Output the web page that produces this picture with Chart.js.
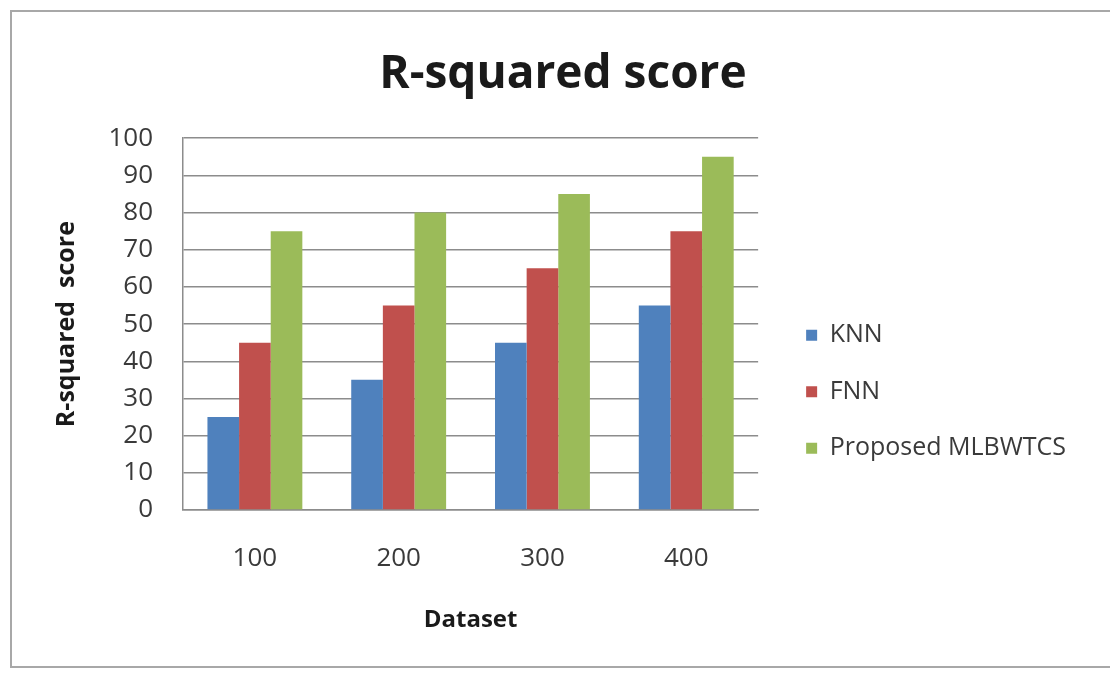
<!DOCTYPE html>
<html>
<head>
<meta charset="utf-8">
<script src="https://cdn.jsdelivr.net/npm/chart.js@4"></script>
<style>
  html, body { margin: 0; padding: 0; background: #ffffff; }
  #wrap { position: relative; width: 1110px; height: 675px; overflow: hidden; background: #fff; }
  #frame { position: absolute; left: 10px; top: 10px; width: 1110px; height: 658px; border: 2px solid #a8a8a8; border-right: none; box-sizing: border-box; }
  canvas { position: absolute; left: 0; top: 0; }
</style>
</head>
<body>
<div id="wrap">
  <div id="frame"></div>
  <canvas id="c" width="1110" height="675"></canvas>
</div>
<script>
const categories = ['100', '200', '300', '400'];
const knn = [25, 35, 45, 55];
const fnn = [45, 55, 65, 75];
const proposed = [75, 80, 85, 95];
const seriesNames = ['KNN', 'FNN', 'Proposed MLBWTCS'];
const yTicks = [0, 10, 20, 30, 40, 50, 60, 70, 80, 90, 100];

const FONT = "'Open Sans', 'DejaVu Sans', sans-serif";
const TXT = '#3a3a3a';

new Chart(document.getElementById('c'), {
  type: 'bar',
  data: {
    labels: categories,
    datasets: [
      { label: seriesNames[0], data: knn, backgroundColor: '#4F81BD' },
      { label: seriesNames[1], data: fnn, backgroundColor: '#C0504D' },
      { label: seriesNames[2], data: proposed, backgroundColor: '#9BBB59' }
    ]
  },
  options: {
    responsive: false,
    animation: false,
    devicePixelRatio: 1,
    layout: { padding: { left: 50, right: 34, top: 20, bottom: 20 } },
    datasets: { bar: { categoryPercentage: 0.66, barPercentage: 1.0, borderWidth: 0 } },
    plugins: {
      title: {
        display: true,
        text: 'R-squared score',
        color: '#1a1a1a',
        font: { family: FONT, size: 46, weight: 'bold' },
        padding: { top: 27, bottom: 36 }
      },
      legend: {
        position: 'right',
        align: 'center',
        maxWidth: 500,
        title: { display: true, text: ' ', font: { size: 10 }, padding: { top: 40, bottom: 40 } },
        labels: {
          color: TXT,
          font: { family: FONT, size: 25, lineHeight: 0.34 },
          boxWidth: 11,
          boxHeight: 11,
          padding: 48,
          generateLabels: (chart) => chart.data.datasets.map((ds, i) => ({
            text: [ds.label],
            fillStyle: ds.backgroundColor,
            strokeStyle: ds.backgroundColor,
            lineWidth: 0,
            hidden: false,
            datasetIndex: i,
            fontColor: TXT
          }))
        }
      },
      tooltip: { enabled: false }
    },
    scales: {
      x: {
        grid: { display: false, drawTicks: false },
        border: { display: true, color: '#8c8c8c', width: 1.5 },
        ticks: { color: TXT, font: { family: FONT, size: 26 }, padding: 33 },
        title: { display: true, text: 'Dataset', color: '#1a1a1a', font: { family: FONT, size: 24, weight: 'bold' }, padding: { top: 0, bottom: 20 } },
        afterFit: (s) => { s.height = 145; }
      },
      y: {
        min: 0, max: 100,
        afterBuildTicks: (s) => { s.ticks = yTicks.map(v => ({ value: v })); },
        grid: { color: '#8c8c8c', lineWidth: 1.5, drawTicks: false },
        border: { display: true, color: '#8c8c8c', width: 1.5 },
        ticks: { color: TXT, font: { family: FONT, size: 26 }, padding: 30 },
        title: { display: true, text: 'R-squared  score', color: '#1a1a1a', font: { family: FONT, size: 25, weight: 'bold' }, padding: { top: 2, bottom: 2 } },
        afterFit: (s) => { s.width = 133; }
      }
    }
  }
});
</script>
</body>
</html>
